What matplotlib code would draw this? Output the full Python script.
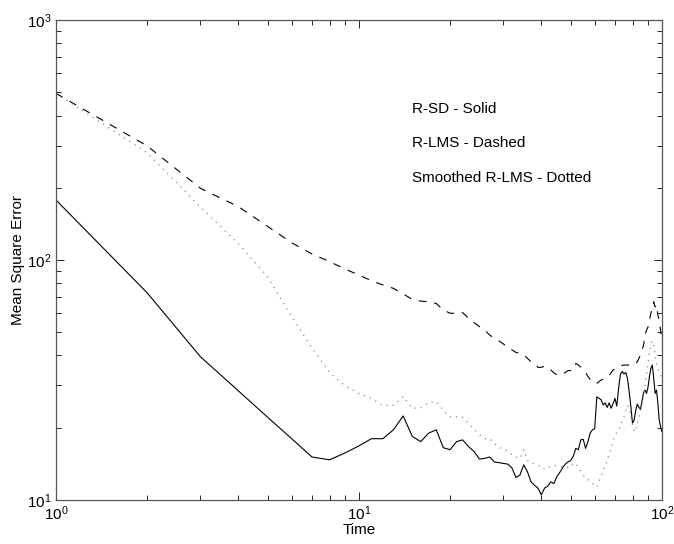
import numpy as np
import matplotlib
matplotlib.use("Agg")
import matplotlib.pyplot as plt

plt.rcParams['font.family'] = ['Liberation Sans', 'DejaVu Sans']
plt.rcParams['mathtext.default'] = 'regular'

# mean square error, one value per time step 1..100
r_sd = [178, 73, 39.5, 28.5, 22.1, 18.0, 15.1, 14.7, 15.7, 16.8,
        18.0, 18.0, 19.6, 22.4, 18.4, 17.5, 19.0, 19.6, 16.5, 16.2,
        17.5, 17.8, 16.7, 15.9, 14.8, 14.9, 15.1, 14.4, 14.3, 14.2,
        14.1, 13.6, 12.4, 12.7, 14.0, 13.1, 11.9, 11.5, 11.2, 10.5,
        11.2, 11.4, 11.9, 11.7, 12.5, 13.0, 13.6, 14.1, 14.4, 14.6,
        15.2, 16.4, 16.2, 17.8, 17.9, 16.4, 17.5, 19.0, 19.6, 19.8,
        26.9, 26.5, 26.2, 24.9, 25.4, 24.3, 25.4, 24.1, 25.2, 26.5,
        24.6, 29.3, 33.5, 34.3, 33.5, 34.0, 32.1, 28.3, 24.5, 20.9,
        21.5, 23.7, 25.1, 24.3, 23.9, 25.9, 28.0, 28.7, 27.8, 29.5,
        32.7, 35.4, 36.5, 32.1, 27.8, 28.7, 25.3, 21.5, 20.2, 19.3]

r_lms = [495, 299, 199, 167, 138, 118, 106, 98.5, 91.7, 86.6,
         82.0, 78.7, 76.2, 72.2, 68.6, 67.4, 67.0, 65.9, 61.9, 60.0,
         60.0, 60.4, 57.2, 54.8, 52.8, 51.1, 48.7, 47.2, 46.0, 44.7,
         43.1, 42.2, 41.2, 40.8, 40.3, 38.9, 37.7, 37.1, 35.7, 35.7,
         36.1, 35.4, 34.8, 33.9, 33.2, 33.2, 33.5, 34.0, 34.6, 34.6,
         35.0, 37.1, 36.5, 35.7, 34.8, 34.0, 32.7, 31.8, 31.1, 30.6,
         30.6, 31.1, 31.6, 31.8, 32.1, 32.5, 33.0, 33.9, 34.8, 35.1,
         35.4, 35.7, 36.0, 36.4, 36.5, 36.5, 36.5, 36.5, 36.5, 36.5,
         36.8, 37.1, 37.7, 38.9, 40.2, 42.2, 44.2, 48.7, 51.1, 52.5,
         56.2, 60.0, 63.8, 67.0, 63.8, 64.9, 59.0, 56.2, 51.1, 46.4]

smoothed = [495, 280, 166, 117, 85, 58, 43, 34, 29.9, 27.8,
            26.5, 24.7, 24.8, 27.0, 24.1, 24.2, 25.5, 25.7, 23.6, 22.2,
            22.2, 22.1, 20.9, 19.7, 18.7, 18.0, 18.0, 17.2, 16.6, 16.2,
            16.0, 15.4, 15.1, 14.9, 16.2, 14.6, 14.3, 14.1, 13.9, 13.9,
            13.4, 13.6, 13.8, 13.9, 13.9, 13.8, 13.7, 13.7, 13.6, 13.7,
            14.2, 14.2, 13.7, 13.1, 12.7, 12.4, 12.2, 11.9, 11.7, 11.5,
            11.3, 12.0, 12.5, 13.3, 13.9, 14.5, 15.6, 16.5, 17.4, 18.6,
            19.1, 19.5, 20.5, 21.3, 22.3, 23.5, 24.8, 24.0, 22.0, 20.5,
            19.2, 19.5, 21.0, 22.0, 23.5, 25.0, 27.0, 30.0, 33.0, 37.0,
            41.0, 45.0, 46.0, 44.0, 40.0, 37.0, 35.0, 34.0, 33.0, 32.0]

time = np.arange(1, len(r_sd) + 1)

labels = ["R-SD - Solid", "R-LMS - Dashed", "Smoothed R-LMS - Dotted"]

fig = plt.figure(figsize=(6.74, 5.44), dpi=100)
ax = fig.add_axes([0.083, 0.081, 0.899, 0.882])

ax.plot(time, r_sd, color='black', lw=0.8)
ax.plot(time, r_lms, color='black', lw=0.8, dashes=(7, 7))
ax.plot(time, smoothed, color='#888888', lw=0.9, linestyle=(0, (1, 4)))

ax.set_xscale('log')
ax.set_yscale('log')
ax.set_xlim(1, 100)
ax.set_ylim(10, 1000)

ax.tick_params(which='both', direction='in', top=True, right=True, labelsize=11)
ax.tick_params(which='major', length=6, width=0.6)
ax.tick_params(which='minor', length=3.5, width=0.6)
for s in ax.spines.values():
    s.set_linewidth(0.9)
    s.set_color('#555555')

ax.set_xlabel('Time', fontsize=11, labelpad=0)
ax.set_ylabel('Mean Square Error', fontsize=11, labelpad=1)

for i, lab in enumerate(labels):
    ax.text(0.588, 0.815 - i * 0.072, lab, transform=ax.transAxes,
            fontsize=11, va='center', ha='left')

fig.savefig('out.png', dpi=100)
